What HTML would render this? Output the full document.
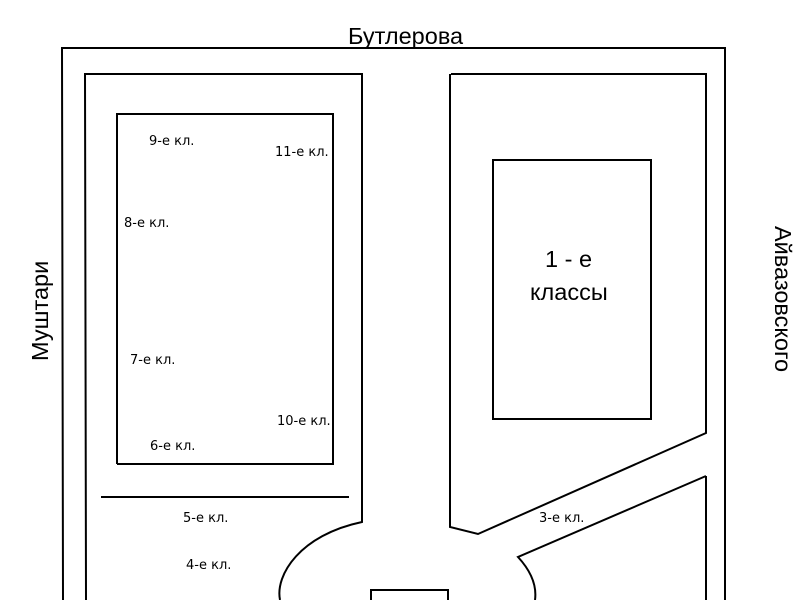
<!DOCTYPE html>
<html><head><meta charset="utf-8"><style>
html,body{margin:0;padding:0;background:#fff;width:800px;height:600px;overflow:hidden}
</style></head><body>
<svg width="800" height="600" viewBox="0 0 800 600" xmlns="http://www.w3.org/2000/svg" style="display:block">
<g fill="none" stroke="#000" stroke-width="2">
<polyline points="63,600 62,48 725,48 725,600"/>
<path d="M86,600 L85,74 L362,74 L362,522 C300,535 275,575 280,600"/>
<polyline points="117,464 117,114 333,114 333,464 117,464"/>
<line x1="101" y1="497" x2="349" y2="497"/>
<path d="M451,74 L706,74 L706,433 L478,534 L450,527 L450,74"/>
<rect x="493" y="160" width="158" height="259"/>
<path d="M706,476 L706,600 M706,476 L518,557 C530,570 537,585 535,600"/>
<polyline points="371,600 371,590 448,590 448,600"/>
</g>
<g font-family="Liberation Sans, DejaVu Sans, sans-serif" fill="#000">
<text x="348" y="44" font-size="23.5">Бутлерова</text>
<text x="545" y="267" font-size="23.5">1 - е</text>
<text x="530" y="300" font-size="23.5">классы</text>
<text transform="translate(48,361) rotate(-90)" font-size="23.5">Муштари</text>
<text transform="translate(775,226) rotate(90)" font-size="23.5">Айвазовского</text>
<g font-size="13" font-family="DejaVu Sans, Liberation Sans, sans-serif">
<text x="149" y="145">9-е кл.</text>
<text x="275" y="156">11-е кл.</text>
<text x="124" y="227">8-е кл.</text>
<text x="130" y="364">7-е кл.</text>
<text x="277" y="425">10-е кл.</text>
<text x="150" y="450">6-е кл.</text>
<text x="183" y="522">5-е кл.</text>
<text x="186" y="569">4-е кл.</text>
<text x="539" y="522">3-е кл.</text>
</g>
</g>
</svg>
</body></html>
